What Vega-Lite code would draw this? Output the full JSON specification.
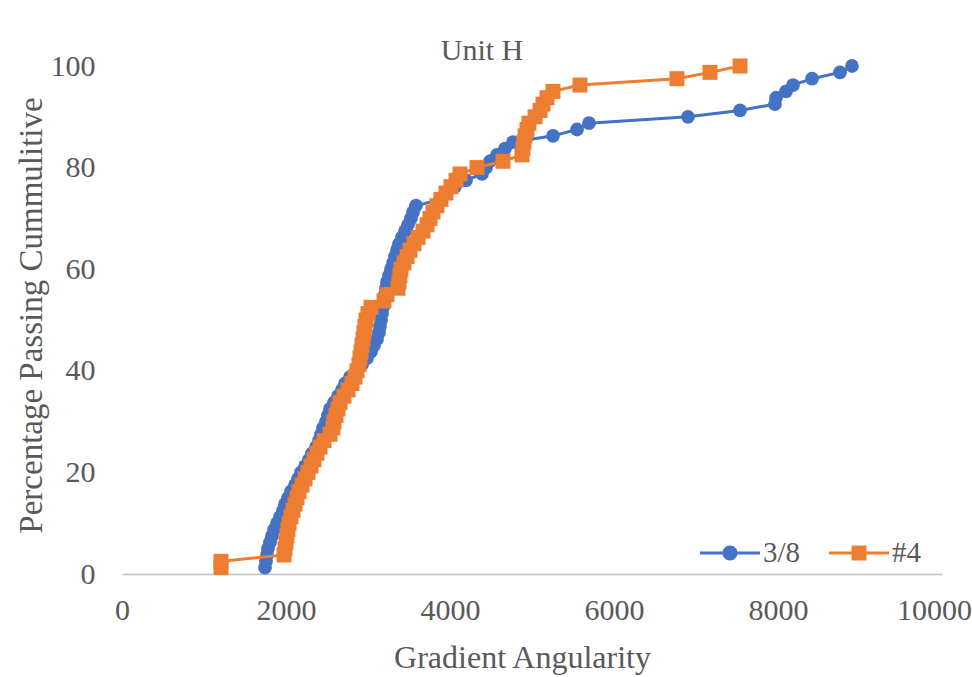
{
 "$schema": "https://vega.github.io/schema/vega-lite/v6.json",
 "width": 820, "height": 508,
 "autosize": "none",
 "padding": {"left": 122, "top": 66, "right": 30, "bottom": 103},
 "background": "white",
 "title": {"text": "Unit H", "font": "Liberation Serif", "fontSize": 30, "fontWeight": "normal", "color": "#595959", "anchor": "middle", "dx": -50, "offset": -39, "baseline": "alphabetic"},
 "config": {"view": {"stroke": null}, "font": "Liberation Serif"},
 "data": {"values": [
{"s":"3/8","x":1744,"y":1.25},{"s":"3/8","x":1756,"y":2.5},{"s":"3/8","x":1768,"y":3.75},{"s":"3/8","x":1780,"y":5},{"s":"3/8","x":1805,"y":6.25},{"s":"3/8","x":1829,"y":7.5},{"s":"3/8","x":1854,"y":8.75},{"s":"3/8","x":1890,"y":10},{"s":"3/8","x":1927,"y":11.25},{"s":"3/8","x":1963,"y":12.5},
{"s":"3/8","x":1988,"y":13.75},{"s":"3/8","x":2024,"y":15},{"s":"3/8","x":2061,"y":16.25},{"s":"3/8","x":2110,"y":17.5},{"s":"3/8","x":2146,"y":18.75},{"s":"3/8","x":2183,"y":20},{"s":"3/8","x":2232,"y":21.25},{"s":"3/8","x":2280,"y":22.5},{"s":"3/8","x":2317,"y":23.75},{"s":"3/8","x":2366,"y":25},
{"s":"3/8","x":2402,"y":26.25},{"s":"3/8","x":2427,"y":27.5},{"s":"3/8","x":2451,"y":28.75},{"s":"3/8","x":2488,"y":30},{"s":"3/8","x":2512,"y":31.25},{"s":"3/8","x":2537,"y":32.5},{"s":"3/8","x":2585,"y":33.75},{"s":"3/8","x":2634,"y":35},{"s":"3/8","x":2683,"y":36.25},{"s":"3/8","x":2720,"y":37.5},
{"s":"3/8","x":2780,"y":38.75},{"s":"3/8","x":2854,"y":40},{"s":"3/8","x":2927,"y":41.25},{"s":"3/8","x":2988,"y":42.5},{"s":"3/8","x":3037,"y":43.75},{"s":"3/8","x":3073,"y":45},{"s":"3/8","x":3110,"y":46.25},{"s":"3/8","x":3134,"y":47.5},{"s":"3/8","x":3146,"y":48.75},{"s":"3/8","x":3159,"y":50},
{"s":"3/8","x":3171,"y":51.25},{"s":"3/8","x":3183,"y":52.5},{"s":"3/8","x":3195,"y":53.75},{"s":"3/8","x":3207,"y":55},{"s":"3/8","x":3220,"y":56.25},{"s":"3/8","x":3232,"y":57.5},{"s":"3/8","x":3256,"y":58.75},{"s":"3/8","x":3280,"y":60},{"s":"3/8","x":3305,"y":61.25},{"s":"3/8","x":3329,"y":62.5},
{"s":"3/8","x":3354,"y":63.75},{"s":"3/8","x":3378,"y":65},{"s":"3/8","x":3415,"y":66.25},{"s":"3/8","x":3451,"y":67.5},{"s":"3/8","x":3488,"y":68.75},{"s":"3/8","x":3524,"y":70},{"s":"3/8","x":3549,"y":71.25},{"s":"3/8","x":3585,"y":72.5},{"s":"3/8","x":3878,"y":73.75},{"s":"3/8","x":3951,"y":75},
{"s":"3/8","x":4061,"y":76.25},{"s":"3/8","x":4195,"y":77.5},{"s":"3/8","x":4390,"y":78.75},{"s":"3/8","x":4439,"y":80},{"s":"3/8","x":4488,"y":81.25},{"s":"3/8","x":4573,"y":82.5},{"s":"3/8","x":4671,"y":83.75},{"s":"3/8","x":4768,"y":85},{"s":"3/8","x":5256,"y":86.25},{"s":"3/8","x":5549,"y":87.5},
{"s":"3/8","x":5695,"y":88.75},{"s":"3/8","x":6902,"y":90},{"s":"3/8","x":7537,"y":91.25},{"s":"3/8","x":7963,"y":92.5},{"s":"3/8","x":7976,"y":93.75},{"s":"3/8","x":8098,"y":95},{"s":"3/8","x":8183,"y":96.25},{"s":"3/8","x":8415,"y":97.5},{"s":"3/8","x":8756,"y":98.75},{"s":"3/8","x":8902,"y":100},
{"s":"#4","x":1207,"y":1.25},{"s":"#4","x":1207,"y":2.5},{"s":"#4","x":1976,"y":3.75},{"s":"#4","x":1988,"y":5},{"s":"#4","x":2000,"y":6.25},{"s":"#4","x":2012,"y":7.5},{"s":"#4","x":2024,"y":8.75},{"s":"#4","x":2037,"y":10},{"s":"#4","x":2061,"y":11.25},{"s":"#4","x":2085,"y":12.5},
{"s":"#4","x":2110,"y":13.75},{"s":"#4","x":2134,"y":15},{"s":"#4","x":2159,"y":16.25},{"s":"#4","x":2195,"y":17.5},{"s":"#4","x":2232,"y":18.75},{"s":"#4","x":2268,"y":20},{"s":"#4","x":2305,"y":21.25},{"s":"#4","x":2341,"y":22.5},{"s":"#4","x":2378,"y":23.75},{"s":"#4","x":2415,"y":25},
{"s":"#4","x":2463,"y":26.25},{"s":"#4","x":2537,"y":27.5},{"s":"#4","x":2573,"y":28.75},{"s":"#4","x":2585,"y":30},{"s":"#4","x":2610,"y":31.25},{"s":"#4","x":2634,"y":32.5},{"s":"#4","x":2659,"y":33.75},{"s":"#4","x":2707,"y":35},{"s":"#4","x":2756,"y":36.25},{"s":"#4","x":2805,"y":37.5},
{"s":"#4","x":2841,"y":38.75},{"s":"#4","x":2866,"y":40},{"s":"#4","x":2890,"y":41.25},{"s":"#4","x":2902,"y":42.5},{"s":"#4","x":2915,"y":43.75},{"s":"#4","x":2927,"y":45},{"s":"#4","x":2939,"y":46.25},{"s":"#4","x":2951,"y":47.5},{"s":"#4","x":2963,"y":48.75},{"s":"#4","x":2976,"y":50},
{"s":"#4","x":3000,"y":51.25},{"s":"#4","x":3037,"y":52.5},{"s":"#4","x":3195,"y":53.75},{"s":"#4","x":3232,"y":55},{"s":"#4","x":3366,"y":56.25},{"s":"#4","x":3378,"y":57.5},{"s":"#4","x":3390,"y":58.75},{"s":"#4","x":3402,"y":60},{"s":"#4","x":3439,"y":61.25},{"s":"#4","x":3476,"y":62.5},
{"s":"#4","x":3512,"y":63.75},{"s":"#4","x":3561,"y":65},{"s":"#4","x":3610,"y":66.25},{"s":"#4","x":3671,"y":67.5},{"s":"#4","x":3720,"y":68.75},{"s":"#4","x":3756,"y":70},{"s":"#4","x":3793,"y":71.25},{"s":"#4","x":3841,"y":72.5},{"s":"#4","x":3890,"y":73.75},{"s":"#4","x":3951,"y":75},
{"s":"#4","x":4012,"y":76.25},{"s":"#4","x":4073,"y":77.5},{"s":"#4","x":4122,"y":78.75},{"s":"#4","x":4329,"y":80},{"s":"#4","x":4646,"y":81.25},{"s":"#4","x":4878,"y":82.5},{"s":"#4","x":4890,"y":83.75},{"s":"#4","x":4902,"y":85},{"s":"#4","x":4915,"y":86.25},{"s":"#4","x":4939,"y":87.5},
{"s":"#4","x":4963,"y":88.75},{"s":"#4","x":5037,"y":90},{"s":"#4","x":5098,"y":91.25},{"s":"#4","x":5134,"y":92.5},{"s":"#4","x":5183,"y":93.75},{"s":"#4","x":5256,"y":95},{"s":"#4","x":5585,"y":96.25},{"s":"#4","x":6768,"y":97.5},{"s":"#4","x":7171,"y":98.75},{"s":"#4","x":7537,"y":100}
 ]},
 "encoding": {
  "x": {"field": "x", "type": "quantitative", "scale": {"domain": [0, 10000]},
   "axis": {"title": "Gradient Angularity", "values": [0, 2000, 4000, 6000, 8000, 10000], "format": "d", "grid": false, "ticks": false, "domain": true, "domainColor": "#BFBFBF", "domainWidth": 1.5, "labelFont": "Liberation Serif", "labelFontSize": 30, "labelColor": "#595959", "labelPadding": 21, "labelFlush": false, "labelOverlap": false, "labelOffset": {"condition": {"test": "datum.value === 10000", "value": -8}, "value": 0}, "titleFont": "Liberation Serif", "titleFontSize": 32, "titleFontWeight": "normal", "titleColor": "#595959", "titleX": 400, "titleY": 93, "titleBaseline": "alphabetic", "titleAlign": "center"}},
  "y": {"field": "y", "type": "quantitative", "scale": {"domain": [0, 100]},
   "axis": {"title": "Percentage Passing Cummulitive", "values": [0, 20, 40, 60, 80, 100], "grid": false, "ticks": false, "domain": false, "labelFont": "Liberation Serif", "labelFontSize": 30, "labelColor": "#595959", "labelPadding": 27, "labelFlush": false, "titleFont": "Liberation Serif", "titleFontSize": 33, "titleFontWeight": "normal", "titleColor": "#595959", "titleX": -74, "titleY": 249, "titleAngle": 270, "titleBaseline": "bottom", "titleAlign": "center"}},
  "order": {"field": "y", "type": "quantitative"}
 },
 "layer": [
  {"transform": [{"filter": "datum.s === '3/8'"}], "mark": {"type": "line", "color": "#4472C4", "strokeWidth": 3}},
  {"transform": [{"filter": "datum.s === '3/8'"}], "mark": {"type": "point", "shape": "circle", "filled": true, "color": "#4472C4", "size": 190, "opacity": 1}},
  {"transform": [{"filter": "datum.s === '#4'"}], "mark": {"type": "line", "color": "#ED7D31", "strokeWidth": 3}},
  {"transform": [{"filter": "datum.s === '#4'"}], "mark": {"type": "point", "shape": "square", "filled": true, "color": "#ED7D31", "size": 225, "opacity": 1}},
  {"mark": {"type": "point", "filled": true, "opacity": 0},
   "encoding": {
    "color": {"field": "s", "type": "nominal", "scale": {"domain": ["3/8", "#4"], "range": ["#4472C4", "#ED7D31"]},
     "legend": {"orient": "none", "legendX": 593, "legendY": 472, "direction": "horizontal", "title": null, "symbolSize": 900, "symbolStrokeWidth": 0, "symbolOpacity": 1, "labelFont": "Liberation Serif", "labelFontSize": 29, "labelColor": "#595959", "labelOffset": 18, "columnPadding": 28, "padding": 0}},
    "shape": {"field": "s", "type": "nominal", "scale": {"domain": ["3/8", "#4"], "range": ["M-2,-0.1H2V0.1H-2Z M-0.5,0A0.5,0.5,0,1,1,0.5,0A0.5,0.5,0,1,1,-0.5,0Z", "M-2,-0.1H2V0.1H-2Z M-0.5,-0.5H0.5V0.5H-0.5Z"]},
     "legend": {"orient": "none", "legendX": 593, "legendY": 472, "direction": "horizontal", "title": null, "symbolSize": 900, "symbolStrokeWidth": 0, "symbolOpacity": 1, "labelFont": "Liberation Serif", "labelFontSize": 29, "labelColor": "#595959", "labelOffset": 18, "columnPadding": 28, "padding": 0}}
   }}
 ]
}
